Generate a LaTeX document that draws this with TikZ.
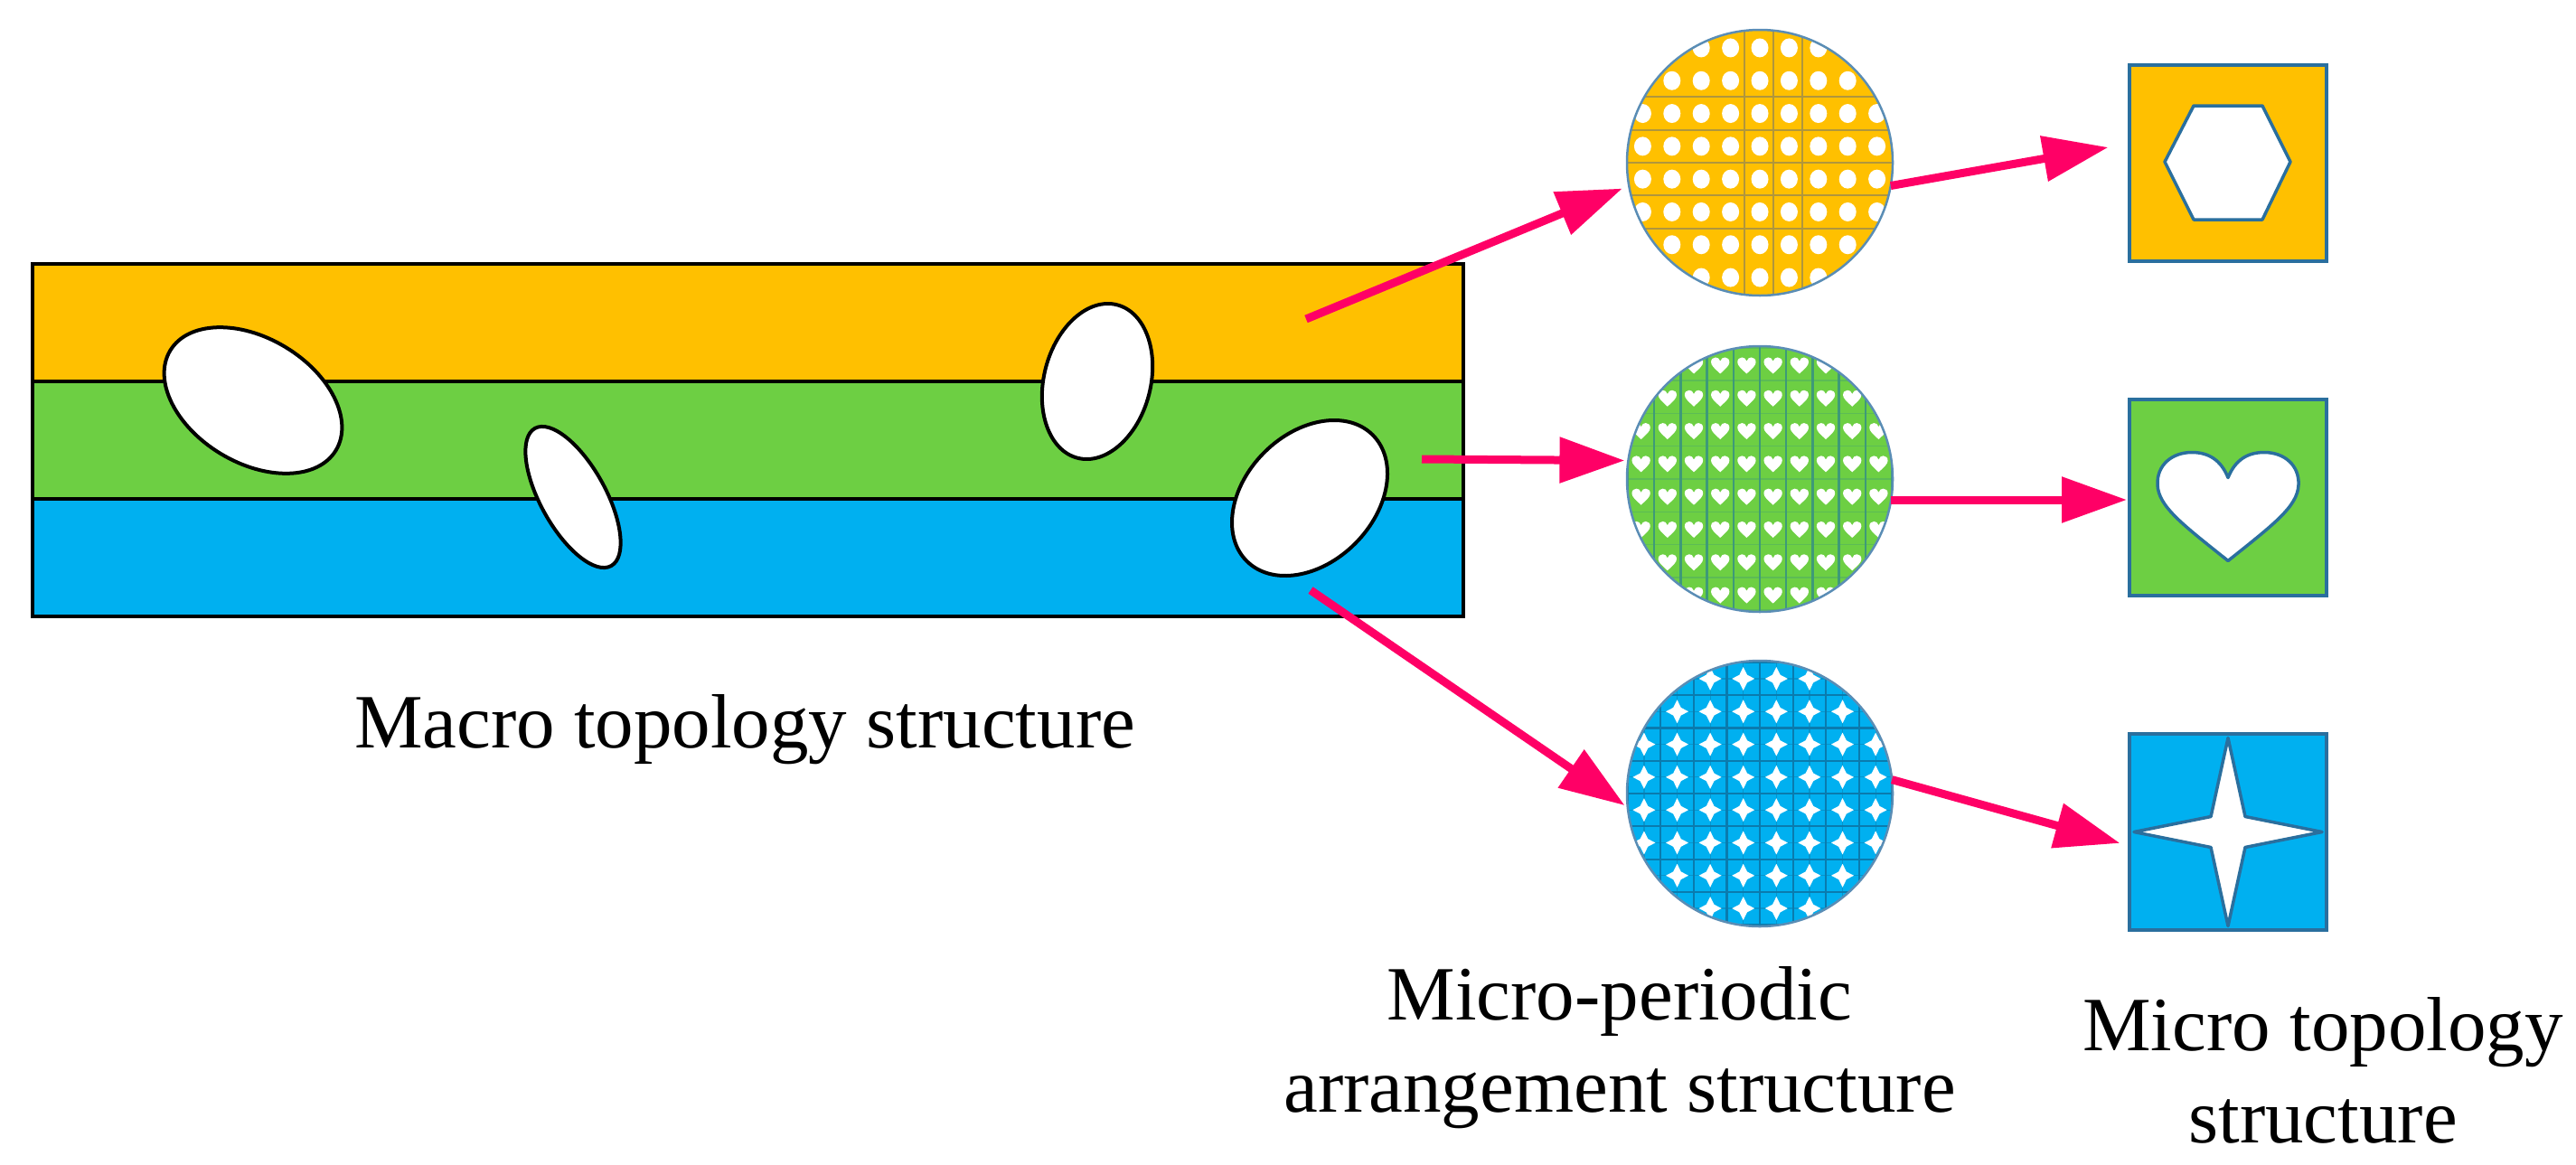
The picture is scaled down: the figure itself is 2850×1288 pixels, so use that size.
\documentclass[tikz,border=0pt]{standalone}
\usepackage{fontspec}
\setmainfont{Liberation Serif}
\usetikzlibrary{arrows.meta}
\definecolor{cyel}{HTML}{FFC000}
\definecolor{cgrn}{HTML}{6DCF43}
\definecolor{cblu}{HTML}{00B0F0}
\definecolor{cpink}{HTML}{FF0066}
\definecolor{cedge}{HTML}{2A6F9E}
\definecolor{ccirc}{HTML}{5A8DB5}
\definecolor{gridy}{HTML}{B0963C}
\definecolor{gridg}{HTML}{3E9A78}
\definecolor{gridb}{HTML}{0A7BAE}
\newcommand\heartshape{(0,-22) .. controls (-8,-42) and (-22,-50) .. (-40,-50) .. controls (-62,-50) and (-79,-36) .. (-78,-14) .. controls (-77,10) and (-50,30) .. (0,70) .. controls (50,30) and (77,10) .. (78,-14) .. controls (79,-36) and (62,-50) .. (40,-50) .. controls (22,-50) and (8,-42) .. (0,-22) -- cycle}
\newcommand\bigstarshape{(0,-104) -- (19,-17) -- (104,0) -- (19,17) -- (0,104) -- (-19,17) -- (-104,0) -- (-19,-17) -- cycle}
\newcommand\smallstarshape{(0,-13) -- (4.3,-4.3) -- (12.5,0) -- (4.3,4.3) -- (0,13) -- (-4.3,4.3) -- (-12.5,0) -- (-4.3,-4.3) -- cycle}
\begin{document}
\begin{tikzpicture}[x=1pt, y=-1pt,
  layer/.style={draw=black, line width=4pt, minimum width=1583pt, minimum height=130pt, inner sep=0pt, outer sep=0pt},
  hole/.style={draw=black, line width=4pt, fill=white},
  disc/.style={circle, minimum size=294pt, inner sep=0pt, outer sep=0pt},
  rim/.style={draw=ccirc, line width=2.5pt},
  cell/.style={draw=cedge, line width=4pt, minimum width=218pt, minimum height=217pt, inner sep=0pt, outer sep=0pt},
  conn/.style={draw=cpink, line width=9pt, -{Triangle[length=72pt, width=49pt]}},
  lbl/.style={font=\fontsize{85}{100}\selectfont, anchor=base, inner sep=0pt},
  cutout/.style={fill=white, draw=cedge, line width=3.5pt, line join=round},
  gl1/.style={draw=gridy, line width=2pt},
  gl2/.style={draw=gridg, line width=2.5pt},
  gl2b/.style={draw=gridg, line width=1.5pt, opacity=0.35},
  gl3/.style={draw=gridb, line width=2.2pt},
  gl3f/.style={draw=gridb, line width=1.2pt, opacity=0.5}
]
\useasboundingbox (0,0) rectangle (2850,1288);

% macro structure
\node[layer, fill=cyel] (L1) at (827.5,357) {};
\node[layer, fill=cgrn] (L2) at (827.5,487) {};
\node[layer, fill=cblu] (L3) at (827.5,617) {};
\draw[hole, rotate around={-31:(280,443)}] (280,443) ellipse [x radius=107, y radius=69];
\draw[hole, rotate around={-61:(634,550)}] (634,550) ellipse [x radius=87, y radius=36];
\draw[hole, rotate around={75.5:(1214,422)}] (1214,422) ellipse [x radius=87.5, y radius=59];
\draw[hole, rotate around={45:(1449,551)}] (1449,551) ellipse [x radius=98.6, y radius=71.2];

% circles
\node[disc, fill=cyel] (c1) at (1947,180) {};
\node[disc, fill=cgrn] (c2) at (1947,530) {};
\node[disc, fill=cblu] (c3) at (1947,878) {};

\begin{scope}
  \clip (1947,180) circle [radius=147];
  \foreach \m in {-2,...,2} \draw[gl1] (1790,{180+36.3*\m}) -- (2110,{180+36.3*\m});
  \foreach \xx in {1930,1962,1994} \draw[gl1] (\xx,20) -- (\xx,340);
  \foreach \i in {-5,...,5} \foreach \j in {-5,...,4}
    \fill[white] ({1947+32.4*\i},{180+36.3*(\j+0.5)}) ellipse [x radius=9.5, y radius=10.5];
\end{scope}
\draw[rim] (c1.center) circle [radius=147];

\begin{scope}
  \clip (1947,530) circle [radius=147];
  \foreach \m in {-5,...,5} \draw[gl2b] (1790,{530+36.3*\m}) -- (2110,{530+36.3*\m});
  \foreach \k in {-6,...,6} \draw[gl2] ({1947+29.2*\k},370) -- ({1947+29.2*\k},690);
  \foreach \i in {-6,...,5} \foreach \j in {-5,...,4}
    \fill[white, shift={({1947+29.2*(\i+0.5)},{530+36.3*(\j+0.5)})}, xscale=0.13, yscale=0.15] \heartshape;
\end{scope}
\draw[rim] (c2.center) circle [radius=147];

\begin{scope}
  \clip (1947,878) circle [radius=147];
  \foreach \k in {-5,...,4} \draw[gl3f] ({1947+36.6*(\k+0.5)},720) -- ({1947+36.6*(\k+0.5)},1040);
  \foreach \m in {-5,...,4} \draw[gl3f] (1790,{878+36.3*(\m+0.5)}) -- (2110,{878+36.3*(\m+0.5)});
  \foreach \k in {-5,...,5} \draw[gl3] ({1947+36.6*\k},720) -- ({1947+36.6*\k},1040);
  \foreach \m in {-5,...,5} \draw[gl3] (1790,{878+36.3*\m}) -- (2110,{878+36.3*\m});
  \foreach \i in {-5,...,4} \foreach \j in {-5,...,4}
    \fill[white, shift={({1947+36.6*(\i+0.5)},{878+36.3*(\j+0.5)})}] \smallstarshape;
\end{scope}
\draw[rim] (c3.center) circle [radius=147];

% unit cells
\node[cell, fill=cyel] (s1) at (2465,180) {};
\node[cell, fill=cgrn] (s2) at (2465,550.5) {};
\node[cell, fill=cblu] (s3) at (2465,920.5) {};
\draw[cutout, shift={(s1.center)}] (-38,-63) -- (38,-63) -- (69,-1) -- (38,63) -- (-38,63) -- (-70,-1) -- cycle;
\draw[cutout, shift={(s2.center)}] \heartshape;
\draw[cutout, shift={(s3.center)}] \bigstarshape;

% connectors
\coordinate (p1) at (1445,353);
\coordinate (p2) at (1573,508);
\coordinate (p3) at (1450,653);
\draw[conn, shorten >=8pt] (p1) -- (c1.190);
\draw[conn, shorten >=4pt] (p2) -- (c2.172);
\draw[conn, shorten >=4pt] (p3) -- (c3.186);
\draw[conn, shorten >=24pt] (c1.-10) -- (s1.169);
\draw[conn, shorten >=3pt] (c2.-9) -- (c2.-9 -| s2.west);
\draw[conn, shorten >=11pt] (c3.6) -- (s3.188);

% labels
\node[lbl] (t1) at (824,827) {Macro topology structure};
\node[lbl] (t2a) at (1792,1128) {Micro-periodic};
\node[lbl] (t2b) at (1792,1230) {arrangement structure};
\node[lbl] (t3a) at (2570,1162) {Micro topology};
\node[lbl] (t3b) at (2570,1264) {structure};
\end{tikzpicture}
\end{document}
